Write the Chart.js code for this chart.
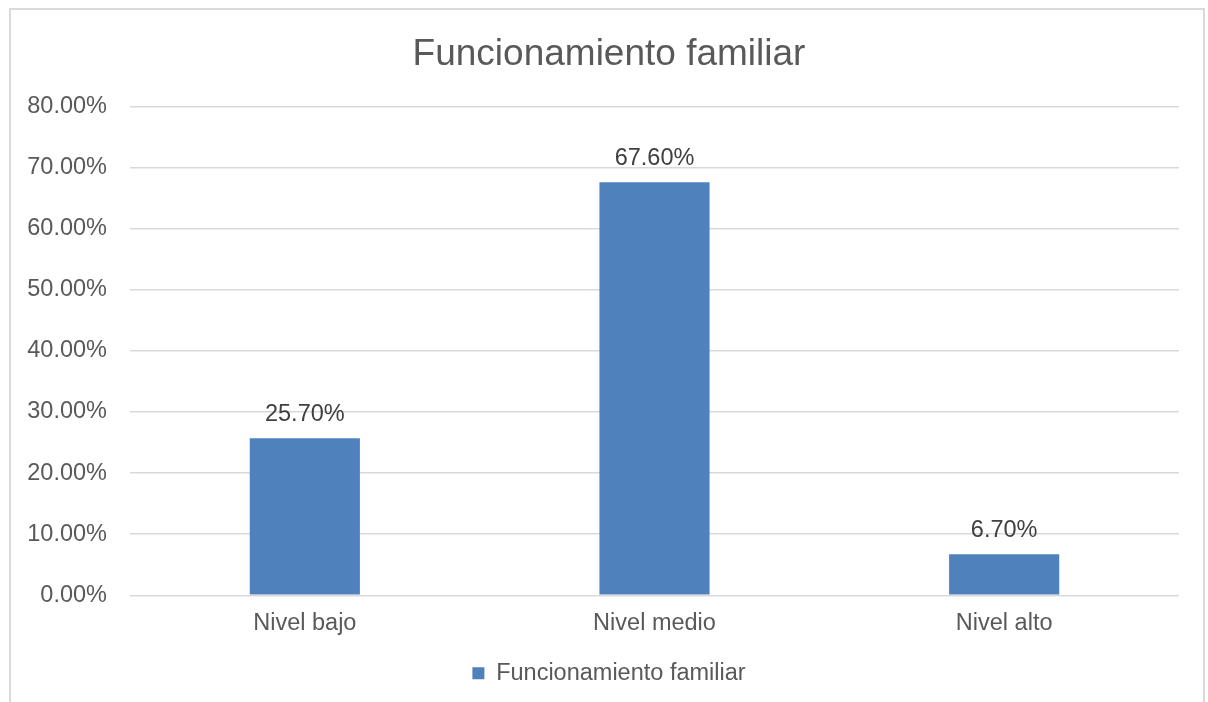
<!DOCTYPE html>
<html>
<head>
<meta charset="utf-8">
<script src="https://cdn.jsdelivr.net/npm/chart.js@4/dist/chart.umd.min.js"></script>
<style>
  html, body { margin: 0; padding: 0; background: #fff; overflow: hidden; }
  #frame {
    position: absolute; left: 9px; top: 8px; width: 1196px; height: 720px;
    border: 2px solid #d9d9d9; box-sizing: border-box;
  }
  #wrap { position: absolute; left: 0; top: 0; width: 1208px; height: 702px; }
</style>
</head>
<body>
<div id="frame"></div>
<div id="wrap"><canvas id="chart"></canvas></div>
<script>
const categories = ['Nivel bajo', 'Nivel medio', 'Nivel alto'];
const seriesName = 'Funcionamiento familiar';
const values = [25.7, 67.6, 6.7];
const yTicks = [0, 10, 20, 30, 40, 50, 60, 70, 80];

const textColor = '#595959';
const barColor = '#4f81bd';
const fontFamily = '"Liberation Sans", Arial, sans-serif';

// draws the value over each bar
const valueLabels = {
    id: 'valueLabels',
    afterDatasetsDraw(chart) {
        const ctx = chart.ctx;
        const meta = chart.getDatasetMeta(0);
        ctx.save();
        ctx.font = '23.5px ' + fontFamily;
        ctx.fillStyle = '#404040';
        ctx.textAlign = 'center';
        ctx.textBaseline = 'middle';
        meta.data.forEach((bar, i) => {
            ctx.fillText(values[i].toFixed(2) + '%', bar.x, bar.y - 24);
        });
        ctx.restore();
    }
};

new Chart(document.getElementById('chart'), {
    type: 'bar',
    data: {
        labels: categories,
        datasets: [{
            label: seriesName,
            data: values,
            backgroundColor: barColor,
            barPercentage: 0.315,
            categoryPercentage: 1
        }]
    },
    options: {
        responsive: true,
        maintainAspectRatio: false,
        animation: false,
        layout: { padding: { left: 10, right: 0, top: 0, bottom: 7 } },
        plugins: {
            title: {
                display: true,
                text: 'Funcionamiento familiar',
                color: textColor,
                font: { family: fontFamily, size: 37, weight: 'normal' },
                padding: { top: 33, bottom: 29 }
            },
            legend: {
                position: 'bottom',
                labels: {
                    color: textColor,
                    font: { family: fontFamily, size: 23.5 },
                    boxWidth: 12,
                    boxHeight: 12,
                    padding: 12
                }
            },
            tooltip: { enabled: false }
        },
        scales: {
            x: {
                grid: { display: false },
                border: { display: false },
                afterFit(scale) {
                    scale.height += 6;
                },
                ticks: {
                    color: textColor,
                    padding: 6,
                    font: { family: fontFamily, size: 23.5 }
                }
            },
            y: {
                min: 0,
                max: 80,
                afterBuildTicks(scale) {
                    scale.ticks = yTicks.map(v => ({ value: v }));
                },
                afterFit(scale) {
                    scale.width = 120;
                },
                grid: { color: '#d9d9d9', lineWidth: 1.5, drawTicks: false },
                border: { display: false },
                ticks: {
                    color: textColor,
                    padding: 23,
                    font: { family: fontFamily, size: 23.5 },
                    callback: v => v.toFixed(2) + '%'
                }
            },
            // empty right margin so title and legend stay centred on the page
            yRight: {
                position: 'right',
                min: 0,
                max: 80,
                grid: { display: false },
                border: { display: false },
                ticks: { display: false },
                afterFit(scale) {
                    scale.width = 29;
                }
            }
        }
    },
    plugins: [valueLabels]
});
</script>
</body>
</html>
